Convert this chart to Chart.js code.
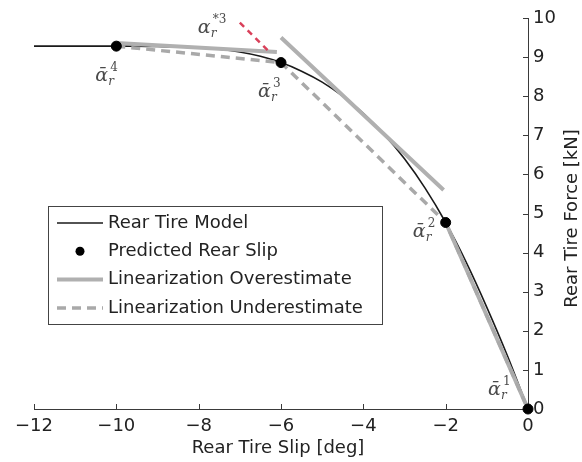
<!DOCTYPE html>
<html>
<head>
<meta charset="utf-8">
<script src="https://cdn.jsdelivr.net/npm/chart.js@4.4.1/dist/chart.umd.min.js"></script>
<style>
  html, body { margin: 0; padding: 0; background: #fff; }
  #wrap { width: 582px; height: 462px; }
</style>
</head>
<body>
<div id="wrap"><canvas id="tireChart"></canvas></div>
<script>
// rear tire model: slip angle [deg] vs lateral force [kN]
const tireSlip  = [-12, -11, -10, -9.5, -9, -8.5, -8, -7.5, -7, -6.5, -6, -5.5, -5, -4.5, -4, -3.5, -3, -2.5, -2, -1.5, -1, -0.5, 0];
const tireForce = [9.28, 9.28, 9.28, 9.28, 9.27, 9.26, 9.24, 9.2, 9.13, 9.02, 8.86, 8.64, 8.36, 8.0, 7.56, 7.03, 6.4, 5.65, 4.77, 3.75, 2.6, 1.36, 0];

// predicted rear slip points, numbered from left to right as 4..1
const predSlip  = [-10, -6, -2, 0];
const predForce = [9.28, 8.86, 4.77, 0];
const predIndex = ['4', '3', '2', '1'];

// linearization that overestimates (three pieces, null breaks the line)
const overSlip  = [-10, -6.1, -6.05, -6, -2.05, -2.02, -2, 0];
const overForce = [9.36, 9.13, null, 9.5, 5.6, null, 4.77, 0];

// linearization that underestimates (chords between predicted points)
const underSlip  = [-10, -6, -2, 0];
const underForce = [9.28, 8.86, 4.77, 0];

// alpha*3 guess line
const starSlip  = [-7.0, -6.25];
const starForce = [9.88, 9.1];

const xTicks = [-12, -10, -8, -6, -4, -2, 0];
const yTicks = [0, 1, 2, 3, 4, 5, 6, 7, 8, 9, 10];

const SANS = "'DejaVu Sans', 'Liberation Sans', Arial, sans-serif";
const SERIF = "'DejaVu Serif', 'Liberation Serif', serif";

const pts = (xs, ys) => xs.map((v, i) => ({ x: v, y: ys[i] }));

const decor = {
  id: 'decor',
  beforeDatasetsDraw(chart) {
    const { ctx, scales: { x, y } } = chart;
    ctx.save();
    ctx.strokeStyle = '#3a3a3a';
    ctx.lineWidth = 1;
    ctx.beginPath();
    x.ticks.forEach(t => {
      const px = Math.round(x.getPixelForValue(t.value)) + 0.5;
      ctx.moveTo(px, y.bottom);
      ctx.lineTo(px, y.bottom - 5);
    });
    y.ticks.forEach(t => {
      const py = Math.round(y.getPixelForValue(t.value)) + 0.5;
      ctx.moveTo(x.right, py);
      ctx.lineTo(x.right - 5, py);
    });
    ctx.stroke();
    ctx.restore();
  },
  afterDatasetsDraw(chart) {
    const { ctx, chartArea: area, scales: { x, y } } = chart;
    ctx.save();

    // axis titles
    ctx.fillStyle = '#222';
    ctx.font = '18px ' + SANS;
    ctx.textAlign = 'center';
    ctx.textBaseline = 'middle';
    ctx.fillText('Rear Tire Slip [deg]', (area.left + area.right) / 2 - 3, area.bottom + 39);
    ctx.save();
    ctx.translate(area.right + 44, (area.top + area.bottom) / 2 + 5);
    ctx.rotate(-Math.PI / 2);
    ctx.fillText('Rear Tire Force [kN]', 0, 0);
    ctx.restore();

    // slip labels next to predicted points
    const label = (ax, ay, bar, sup) => {
      ctx.fillStyle = '#4a4a4a';
      ctx.textAlign = 'left';
      ctx.textBaseline = 'alphabetic';
      ctx.font = 'italic 19px ' + SERIF;
      ctx.fillText(bar ? '\u1FB1' : '\u03B1', ax, ay);
      ctx.font = '12px ' + SERIF;
      ctx.fillText(sup, ax + 15, ay - 10);
      ctx.font = 'italic 12px ' + SERIF;
      ctx.fillText('r', ax + 13, ay + 4);
    };
    const offs = [[-21, 35], [-23, 34], [-33, 15], [-40, -14]];
    predSlip.forEach((s, i) => {
      const px = x.getPixelForValue(s), py = y.getPixelForValue(predForce[i]);
      label(px + offs[i][0], py + offs[i][1], true, predIndex[i]);
    });
    label(x.getPixelForValue(starSlip[0]) - 42, y.getPixelForValue(starForce[0]) + 10, false, '*3');

    // legend box
    const bx = area.left + 14, by = area.top + 188, bw = 334, bh = 118;
    ctx.fillStyle = '#fff';
    ctx.fillRect(bx, by, bw, bh);
    ctx.strokeStyle = '#444';
    ctx.lineWidth = 1;
    ctx.strokeRect(bx + 0.5, by + 0.5, bw, bh);
    const items = chart.data.datasets
      .filter(d => d.inLegend)
      .sort((a, b) => a.legendOrder - b.legendOrder);
    items.forEach((d, i) => {
      const cy = by + 17 + i * 28.3;
      ctx.save();
      if (d.showLine === false) {
        ctx.fillStyle = d.backgroundColor;
        ctx.beginPath();
        ctx.arc(bx + 32, cy, 4.5, 0, Math.PI * 2);
        ctx.fill();
      } else {
        ctx.strokeStyle = d.borderColor;
        ctx.lineWidth = d.borderWidth;
        ctx.setLineDash(d.borderDash || []);
        ctx.beginPath();
        ctx.moveTo(bx + 9, cy);
        ctx.lineTo(bx + 55, cy);
        ctx.stroke();
      }
      ctx.restore();
      ctx.fillStyle = '#222';
      ctx.font = '18px ' + SANS;
      ctx.textAlign = 'left';
      ctx.textBaseline = 'middle';
      ctx.fillText(d.label, bx + 60, cy);
    });
    ctx.restore();
  }
};

new Chart(document.getElementById('tireChart'), {
  type: 'scatter',
  data: {
    datasets: [
      {
        label: 'Predicted Rear Slip',
        inLegend: true,
        data: pts(predSlip, predForce),
        showLine: false,
        backgroundColor: '#000',
        borderColor: '#000',
        pointRadius: 5,
        clip: false,
        order: 0,
        legendOrder: 1
      },
      {
        label: 'alpha star',
        data: pts(starSlip, starForce),
        showLine: true,
        borderColor: '#d9405a',
        borderWidth: 2.5,
        borderDash: [6, 5],
        pointRadius: 0,
        clip: false,
        order: 1
      },
      {
        label: 'Linearization Underestimate',
        inLegend: true,
        data: pts(underSlip, underForce),
        showLine: true,
        borderColor: '#a9a9a9',
        borderWidth: 3.5,
        borderDash: [9, 6],
        pointRadius: 0,
        order: 2,
        legendOrder: 3
      },
      {
        label: 'Linearization Overestimate',
        inLegend: true,
        data: pts(overSlip, overForce),
        showLine: true,
        spanGaps: false,
        borderColor: '#b0b0b0',
        borderWidth: 4,
        pointRadius: 0,
        order: 3,
        legendOrder: 2
      },
      {
        label: 'Rear Tire Model',
        inLegend: true,
        data: pts(tireSlip, tireForce),
        showLine: true,
        borderColor: '#1a1a1a',
        borderWidth: 1.6,
        cubicInterpolationMode: 'monotone',
        pointRadius: 0,
        order: 4,
        legendOrder: 0
      }
    ]
  },
  options: {
    responsive: true,
    maintainAspectRatio: false,
    animation: false,
    layout: { padding: { left: 34, top: 18, right: 0, bottom: 0 } },
    plugins: { legend: { display: false }, tooltip: { enabled: false } },
    scales: {
      x: {
        type: 'linear',
        min: -12, max: 0,
        afterBuildTicks: s => { s.ticks = xTicks.map(v => ({ value: v })); },
        afterFit: s => { s.height = 53; },
        grid: { display: false, drawTicks: false },
        border: { display: true, color: '#3a3a3a', width: 1 },
        ticks: {
          padding: 7,
          color: '#222',
          font: { family: SANS, size: 18 },
          callback: v => String(v).replace('-', '\u2212')
        }
      },
      y: {
        type: 'linear',
        position: 'right',
        min: 0, max: 10,
        afterBuildTicks: s => { s.ticks = yTicks.map(v => ({ value: v })); },
        afterFit: s => { s.width = 54; },
        grid: { display: false, drawTicks: false },
        border: { display: true, color: '#3a3a3a', width: 1 },
        ticks: {
          padding: 5,
          color: '#222',
          font: { family: SANS, size: 18 }
        }
      }
    }
  },
  plugins: [decor]
});
</script>
</body>
</html>
